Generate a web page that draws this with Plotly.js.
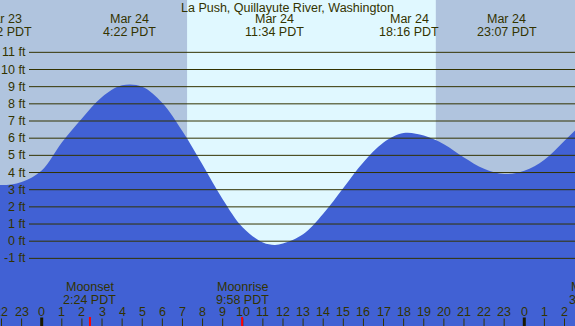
<!DOCTYPE html>
<html>
<head>
<meta charset="utf-8">
<script src="https://cdn.plot.ly/plotly-3.0.1.min.js"></script>
<style>html,body{margin:0;padding:0;background:#B0C4DE;}#chart{width:575px;height:326px;}</style>
</head>
<body>
<div id="chart"></div>
<script>
// ---- data (hours relative to Mar 24 00:00 PDT) ----
var title = "La Push, Quillayute River, Washington";
var tideHours = [-3,-2,-1,0,1,2,3,4,5,6,7,8,9,10,11,11.57,12,13,14,15,16,17,18,19,20,21,22,23,24,25,26,27];
var tideFt    = [3.45,3.27,3.45,4.12,5.75,7.15,8.4,9.08,9.0,8.05,6.4,4.45,2.45,0.8,-0.08,-0.22,-0.14,0.4,1.6,3.1,4.6,5.75,6.3,6.15,5.65,4.88,4.22,3.91,4.1,4.75,5.85,7.0];

var extremeHours = [-1.967, 4.367, 11.567, 18.267, 23.117];
var extremeDates = ["Mar 23", "Mar 24", "Mar 24", "Mar 24", "Mar 24"];
var extremeTimes = ["22:02 PDT", "4:22 PDT", "11:34 PDT", "18:16 PDT", "23:07 PDT"];

var sunriseHour = 7.23, sunsetHour = 19.6;

var moonHours  = [2.4, 9.967, 27.52];
var moonEvents = ["Moonset", "Moonrise", "Moonset"];
var moonTimes  = ["2:24 PDT", "9:58 PDT", "3:31 PDT"];

var hourTicks  = [-2,-1,0,1,2,3,4,5,6,7,8,9,10,11,12,13,14,15,16,17,18,19,20,21,22,23,24,25,26];
var hourLabels = ["22","23","0","1","2","3","4","5","6","7","8","9","10","11","12","13","14","15","16","17","18","19","20","21","22","23","0","1","2"];
var midnightHours = [0, 24];

var ftLevels = [-1,0,1,2,3,4,5,6,7,8,9,10,11];
var ftLabels = ["-1 ft","0 ft","1 ft","2 ft","3 ft","4 ft","5 ft","6 ft","7 ft","8 ft","9 ft","10 ft","11 ft"];

// ---- styles ----
var X_RANGE = [-2.074, 26.522];
var Y_RANGE = [-4.939, 14.048];
var H = 326;
var NIGHT = "#B0C4DE", DAY = "#E0F8FF", WATER = "#4161D4", INK = "#333300";
var FONT = "Liberation Sans, Arial, sans-serif";
var FS = 12.5;

function py(p){ return 1 - p / H; }
function paperX(h){ return (h - X_RANGE[0]) / (X_RANGE[1] - X_RANGE[0]); }

var traces = [
  {x: tideHours, y: tideHours.map(function(){ return Y_RANGE[0] - 1; }), mode: "lines",
   line: {width: 0, color: WATER}, hoverinfo: "skip", showlegend: false},
  {x: tideHours, y: tideFt, mode: "lines", fill: "tonexty", fillcolor: WATER,
   line: {width: 0, color: WATER, shape: "spline", smoothing: 1}, hoverinfo: "skip", showlegend: false}
];

var shapes = [];
shapes.push({type: "rect", xref: "x", yref: "paper", x0: sunriseHour, x1: sunsetHour, y0: 0, y1: 1,
             fillcolor: DAY, line: {width: 0}, layer: "below"});
ftLevels.forEach(function(f){
  shapes.push({type: "line", xref: "paper", yref: "y", x0: 29/575, x1: 1, y0: f, y1: f,
               line: {color: INK, width: 1}, layer: "above"});
});
hourTicks.forEach(function(h){
  if (midnightHours.indexOf(h) >= 0) return;
  shapes.push({type: "line", xref: "x", yref: "paper", x0: h, x1: h, y0: 0, y1: 7.5/H,
               line: {color: INK, width: 1}, layer: "above"});
});
midnightHours.forEach(function(h){
  shapes.push({type: "line", xref: "x", yref: "paper", x0: h, x1: h, y0: 0, y1: 8.5/H,
               line: {color: "#1a1a00", width: 3}, layer: "above"});
});
moonHours.forEach(function(h){
  if (h > X_RANGE[1]) return;
  shapes.push({type: "line", xref: "x", yref: "paper", x0: h, x1: h, y0: 0, y1: 9/H,
               line: {color: "#ff0000", width: 2}, layer: "above"});
});

var annotations = [];
function txt(x, xref, y, s, xanchor){
  annotations.push({x: x, xref: xref, y: y, yref: "paper", text: s, showarrow: false,
    xanchor: xanchor || "center", yanchor: "middle", font: {family: FONT, size: FS, color: INK}, borderpad: 0});
}
txt(0.5, "paper", py(8), title);
extremeHours.forEach(function(h, i){
  txt(paperX(h), "paper", py(19.5), extremeDates[i]);
  txt(paperX(h), "paper", py(31.5), extremeTimes[i]);
});
ftLevels.forEach(function(f, i){
  annotations.push({x: 27/575, xref: "paper", y: f, yref: "y", text: ftLabels[i], showarrow: false,
    xanchor: "right", yanchor: "middle", font: {family: FONT, size: FS, color: INK}, borderpad: 0});
});
hourTicks.forEach(function(h, i){
  txt(paperX(h), "paper", py(312), hourLabels[i]);
});
moonHours.forEach(function(h, i){
  txt(paperX(h), "paper", py(287), moonEvents[i]);
  txt(paperX(h), "paper", py(300), moonTimes[i]);
});

var layout = {
  width: 575, height: 326,
  margin: {l: 0, r: 0, t: 0, b: 0, pad: 0},
  paper_bgcolor: NIGHT, plot_bgcolor: NIGHT,
  xaxis: {range: X_RANGE, visible: false, fixedrange: true},
  yaxis: {range: Y_RANGE, visible: false, fixedrange: true},
  shapes: shapes, annotations: annotations, showlegend: false
};
Plotly.newPlot("chart", traces, layout, {staticPlot: true, displayModeBar: false});
</script>
</body>
</html>
